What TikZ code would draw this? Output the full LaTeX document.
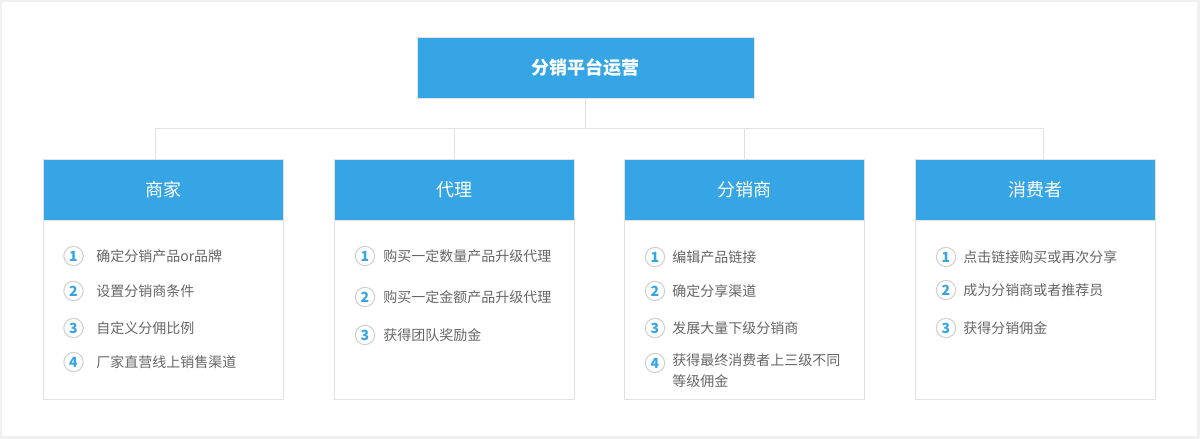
\documentclass[tikz,border=0pt]{standalone}
\usepackage{fontspec}
\setmainfont{Noto Sans CJK SC}
\definecolor{mainblue}{HTML}{35A5E5}
\definecolor{linegray}{HTML}{E2E2E2}
\definecolor{framegray}{HTML}{F0F0F0}
\definecolor{txtgray}{HTML}{666666}
\definecolor{circgray}{HTML}{CFCFCF}
\begin{document}
\begin{tikzpicture}[x=0.75pt,y=-0.75pt,
  conn/.style={draw=linegray,line width=0.75pt},
  titlebox/.style={draw=linegray,line width=0.75pt,fill=mainblue,inner sep=0pt,
    minimum width=252.75pt,minimum height=45.75pt,text=white,font=\fontsize{13.5}{16}\selectfont\bfseries},
  hdrbox/.style={draw=linegray,line width=0.75pt,fill=mainblue,inner sep=0pt,
    minimum width=180pt,minimum height=45.75pt,text=white,font=\fontsize{13.5}{16}\selectfont},
  bodybox/.style={draw=linegray,line width=0.75pt,fill=white,inner sep=0pt,
    minimum width=180pt,minimum height=134.25pt},
  num/.style={circle,draw=circgray,line width=0.75pt,inner sep=0pt,minimum size=14.5pt,
    text=mainblue,font=\fontsize{10.5}{11}\selectfont\bfseries},
  item/.style={anchor=west,inner sep=0pt,text=txtgray,font=\fontsize{10.5}{15.75}\selectfont,align=left}
]
\useasboundingbox (0,0) rectangle (1200,439);
\fill[framegray] (0,0) rectangle (1200,439);
\fill[white] (2,2) rectangle (1197,436);

% title
\node[titlebox] (title) at (585.5,67.5) {分销平台运营};

% headers
\node[hdrbox] (h1) at (163.5,189.5) {商家};
\node[hdrbox] (h2) at (454,189.5) {代理};
\node[hdrbox] (h3) at (744.5,189.5) {分销商};
\node[hdrbox] (h4) at (1035,189.5) {消费者};

% bodies
\node[bodybox,anchor=north] (b1) at (163.5,220) {};
\node[bodybox,anchor=north] (b2) at (454,220) {};
\node[bodybox,anchor=north] (b3) at (744.5,220) {};
\node[bodybox,anchor=north] (b4) at (1035,220) {};
\draw[conn] (h1.south west) -- (h1.south east);
\draw[conn] (h2.south west) -- (h2.south east);
\draw[conn] (h3.south west) -- (h3.south east);
\draw[conn] (h4.south west) -- (h4.south east);

% connectors
\coordinate (j0) at (585.5,128);
\coordinate (j1) at (155,128);
\coordinate (j2) at (454,128);
\coordinate (j3) at (744,128);
\coordinate (j4) at (1043,128);
\coordinate (d1) at (155,159);
\coordinate (d2) at (454,159);
\coordinate (d3) at (744,159);
\coordinate (d4) at (1043,159);
\draw[conn] (title.south) -- (j0);
\draw[conn] (j1) -- (j4);
\draw[conn] (j1) -- (d1);
\draw[conn] (j2) -- (d2);
\draw[conn] (j3) -- (d3);
\draw[conn] (j4) -- (d4);

% column 1
\node[num] (c11) at (73.5,256) {1};
\node[item] (t11) at (96,256) {确定分销产品or品牌};
\node[num] (c12) at (73.5,291) {2};
\node[item] (t12) at (96,291) {设置分销商条件};
\node[num] (c13) at (73.5,328) {3};
\node[item] (t13) at (96,328) {自定义分佣比例};
\node[num] (c14) at (73.5,362) {4};
\node[item] (t14) at (96,362) {厂家直营线上销售渠道};

% column 2
\node[num] (c21) at (365,256) {1};
\node[item] (t21) at (383,256) {购买一定数量产品升级代理};
\node[num] (c22) at (365,297) {2};
\node[item] (t22) at (383,297) {购买一定金额产品升级代理};
\node[num] (c23) at (365,335) {3};
\node[item] (t23) at (383,335) {获得团队奖励金};

% column 3
\node[num] (c31) at (655,257) {1};
\node[item] (t31) at (672,257) {编辑产品链接};
\node[num] (c32) at (655,291) {2};
\node[item] (t32) at (672,291) {确定分享渠道};
\node[num] (c33) at (655,328) {3};
\node[item] (t33) at (672,328) {发展大量下级分销商};
\node[num] (c34) at (655,363) {4};
\node[item,anchor=north west] (t34) at (672,353) {获得最终消费者上三级不同\\等级佣金};

% column 4
\node[num] (c41) at (946,257) {1};
\node[item] (t41) at (963,257) {点击链接购买或再次分享};
\node[num] (c42) at (946,290) {2};
\node[item] (t42) at (963,290) {成为分销商或者推荐员};
\node[num] (c43) at (946,328) {3};
\node[item] (t43) at (963,328) {获得分销佣金};
\end{tikzpicture}
\end{document}
